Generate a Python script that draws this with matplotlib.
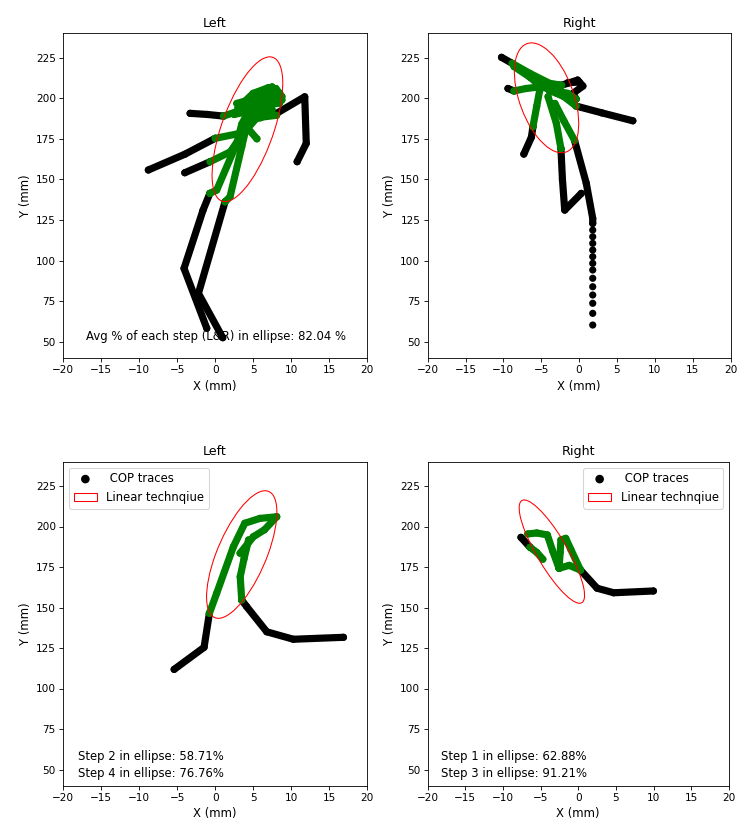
import matplotlib
matplotlib.use("Agg")
import matplotlib.pyplot as plt
from matplotlib.patches import Ellipse, Patch

plt.rcParams["font.size"] = 11
plt.rcParams["xtick.labelsize"] = 10
plt.rcParams["ytick.labelsize"] = 10
plt.rcParams["axes.titlesize"] = 12

# ---- COP traces (x, y) in mm ----
# Left, top panel
tl_black = [
    [(-3.3, 190.7), (-1.0, 190.0), (1.1, 189.0)],
    [(-8.8, 155.8), (-4.0, 165.5), (0.0, 175.3)],
    [(-4.0, 154.1), (-0.67, 160.9)],
    [(8.1, 190.7), (11.8, 200.9), (12.0, 172.2), (10.8, 160.9)],
    [(-1.1, 58.3), (-4.1, 95.2), (-1.6, 131.0), (-0.7, 141.4)],
    [(1.0, 52.5), (-2.2, 79.8), (1.3, 136.2)],
]
tl_green = [
    [(-0.7, 141.4), (0.2, 143.4), (2.85, 172.2), (3.5, 184.0), (4.5, 193.0), (6.0, 198.0)],
    [(1.3, 136.2), (1.96, 139.3), (3.5, 170.1), (4.0, 180.0), (5.5, 188.0), (8.1, 189.5)],
    [(0.0, 175.3), (3.3, 178.4), (4.5, 186.0), (6.0, 193.0), (8.0, 200.0), (8.8, 199.0)],
    [(-0.67, 160.9), (2.0, 167.0), (3.3, 176.0)],
    [(1.1, 189.0), (3.0, 192.0), (5.0, 196.0), (7.0, 204.0), (7.5, 207.0)],
    [(2.85, 196.8), (4.5, 199.0), (6.5, 205.0), (7.8, 206.0)],
    [(4.2, 182.0), (5.5, 175.0)],
    [(5.0, 192.0), (7.0, 196.0), (8.5, 197.0)],
    [(3.0, 194.0), (5.0, 203.0), (7.0, 206.5)],
    [(2.5, 190.0), (4.5, 192.0), (6.5, 199.0), (8.5, 203.0)],
    [(4.0, 186.0), (6.0, 188.0), (7.5, 193.0)],
    [(6.0, 202.0), (8.0, 206.0), (8.8, 201.0)],
]

# Right, top panel
tr_black = [
    [(-10.25, 225.2), (-8.85, 221.5)],
    [(-9.4, 206.0), (-8.6, 204.5)],
    [(-2.3, 208.0), (-0.2, 211.2), (0.5, 207.5), (-0.8, 203.0), (-0.4, 199.5)],
    [(-1.5, 209.5), (0.0, 210.0)],
    [(-0.4, 195.2), (3.0, 191.0), (7.1, 186.1)],
    [(-6.1, 182.4), (-6.3, 176.0), (-7.3, 165.6)],
    [(-2.4, 169.0), (-2.2, 150.0), (-1.9, 131.1), (0.29, 141.4)],
    [(-0.6, 174.0), (0.95, 147.6), (1.8, 126.0), (1.8, 122.9)],
]
tr_dots_x = [1.8] * 13
tr_dots_y = [118.8, 114.7, 110.6, 106.5, 102.4, 98.3, 94.2, 89.1, 83.9,
             78.8, 73.7, 67.5, 60.3]
tr_green = [
    [(-8.85, 221.5), (-6.5, 215.3), (-3.9, 209.2), (-2.3, 208.0)],
    [(-8.6, 219.5), (-6.5, 213.0), (-4.5, 208.0)],
    [(-8.6, 204.5), (-7.0, 206.0), (-5.2, 207.0), (-2.6, 208.1)],
    [(-5.2, 205.0), (-5.6, 195.0), (-6.1, 182.4)],
    [(-4.1, 201.0), (-3.0, 184.5), (-2.4, 169.0)],
    [(-3.2, 196.8), (-2.0, 186.0), (-0.6, 174.0)],
    [(-4.0, 205.0), (-2.0, 201.0), (-0.4, 195.2)],
    [(-6.5, 213.0), (-5.0, 207.0), (-3.5, 205.0), (-1.5, 203.0), (-0.4, 199.5)],
]

# Left, bottom panel (steps 2 and 4)
bl_black = [
    [(-5.4, 111.8), (-1.46, 125.4), (-0.76, 146.4)],
    [(3.5, 154.6), (4.16, 150.5), (6.8, 135.0), (10.3, 130.4), (16.9, 131.6)],
]
bl_green = [
    [(-0.76, 146.4), (0.2, 158.8), (2.4, 187.5), (3.9, 202.0), (5.9, 205.0), (8.1, 206.0)],
    [(8.1, 206.0), (6.5, 198.0), (5.03, 193.7), (3.28, 183.5)],
    [(4.4, 191.7), (3.8, 180.0), (3.3, 169.0), (3.5, 154.6)],
]

# Right, bottom panel (steps 1 and 3)
br_black = [
    [(-7.6, 193.3), (-6.4, 187.2)],
    [(0.3, 173.1), (2.5, 161.9), (4.7, 159.1), (9.97, 160.2)],
]
br_green = [
    [(-6.4, 187.2), (-5.5, 184.0), (-4.7, 179.8)],
    [(-6.7, 195.4), (-5.5, 196.0), (-4.1, 194.8), (-3.4, 185.0), (-2.55, 174.2)],
    [(-2.55, 174.2), (-2.4, 184.0), (-2.3, 191.7), (-1.66, 192.7), (-1.0, 186.0), (0.3, 173.1)],
    [(-2.55, 174.2), (-1.2, 176.0), (0.3, 173.1)],
]

# ---- ellipses: center, width (major), height (minor), angle ----
ell_tl = ((4.25, 180.9), 89.4, 7.2, 86.2)
ell_tr = ((-4.3, 200.25), 67.8, 7.5, 93.4)
ell_bl = ((3.5, 182.7), 79.0, 6.9, 85.5)
ell_br = ((-3.5, 184.5), 64.2, 4.6, 96.6)

x_ticks = [-20, -15, -10, -5, 0, 5, 10, 15, 20]
y_ticks = [50, 75, 100, 125, 150, 175, 200, 225]

DPI = 76
W, H = 737, 820
LW = 6.8

fig = plt.figure(figsize=(W / DPI, H / DPI), dpi=DPI)


def px_axes(left, top, right, bottom):
    return fig.add_axes([left / W, 1 - bottom / H, (right - left) / W, (bottom - top) / H])


ax_tl = px_axes(63.3, 33.3, 367.0, 358.0)
ax_tr = px_axes(427.7, 33.3, 730.5, 358.0)
ax_bl = px_axes(63.3, 461.7, 367.0, 785.7)
ax_br = px_axes(427.5, 461.7, 729.0, 785.7)


def draw(ax, traces, color, label=None):
    h = None
    for tr in traces:
        xs = [p[0] for p in tr]
        ys = [p[1] for p in tr]
        ax.plot(xs, ys, color=color, lw=LW, solid_capstyle="round",
                solid_joinstyle="round", zorder=2)
        s = ax.scatter(xs, ys, s=LW ** 2, color=color, edgecolors="none",
                       zorder=2, label=label)
        if h is None:
            h = s
    return h


def setup(ax, title, ell):
    (cx, cy), w, hgt, ang = ell
    e = Ellipse((cx, cy), w, hgt, angle=ang, fill=False, edgecolor="red",
                lw=1.0, zorder=3)
    ax.add_patch(e)
    ax.set_xlim(-20, 20)
    ax.set_ylim(40, 240)
    ax.set_xticks(x_ticks)
    ax.set_yticks(y_ticks)
    ax.set_title(title)
    ax.set_xlabel("X (mm)")
    ax.set_ylabel("Y (mm)")


def ell_handle():
    return Patch(facecolor="none", edgecolor="red", lw=1.0)


# top left
draw(ax_tl, tl_black, "black")
draw(ax_tl, tl_green, "green")
setup(ax_tl, "Left", ell_tl)
ax_tl.text(-17.0, 53.0, "Avg % of each step (L&R) in ellipse: 82.04 %",
           va="center", zorder=1)

# top right
draw(ax_tr, tr_black, "black")
ax_tr.scatter(tr_dots_x, tr_dots_y, s=LW ** 2, color="black",
              edgecolors="none", zorder=2)
draw(ax_tr, tr_green, "green")
setup(ax_tr, "Right", ell_tr)

# bottom left
h1 = draw(ax_bl, bl_black, "black")
draw(ax_bl, bl_green, "green")
setup(ax_bl, "Left", ell_bl)
ax_bl.legend(handles=[h1, ell_handle()], labels=[" COP traces", "Linear technqiue"],
             loc="upper left", markerscale=1.2)
ax_bl.text(-18.0, 57.9, "Step 2 in ellipse: 58.71%", va="center")
ax_bl.text(-18.0, 47.7, "Step 4 in ellipse: 76.76%", va="center")

# bottom right
h2 = draw(ax_br, br_black, "black")
draw(ax_br, br_green, "green")
setup(ax_br, "Right", ell_br)
ax_br.legend(handles=[h2, ell_handle()], labels=[" COP traces", "Linear technqiue"],
             loc="upper right", markerscale=1.2)
ax_br.text(-18.2, 57.9, "Step 1 in ellipse: 62.88%", va="center")
ax_br.text(-18.2, 47.7, "Step 3 in ellipse: 91.21%", va="center")

fig.savefig("out.png", dpi=DPI)
